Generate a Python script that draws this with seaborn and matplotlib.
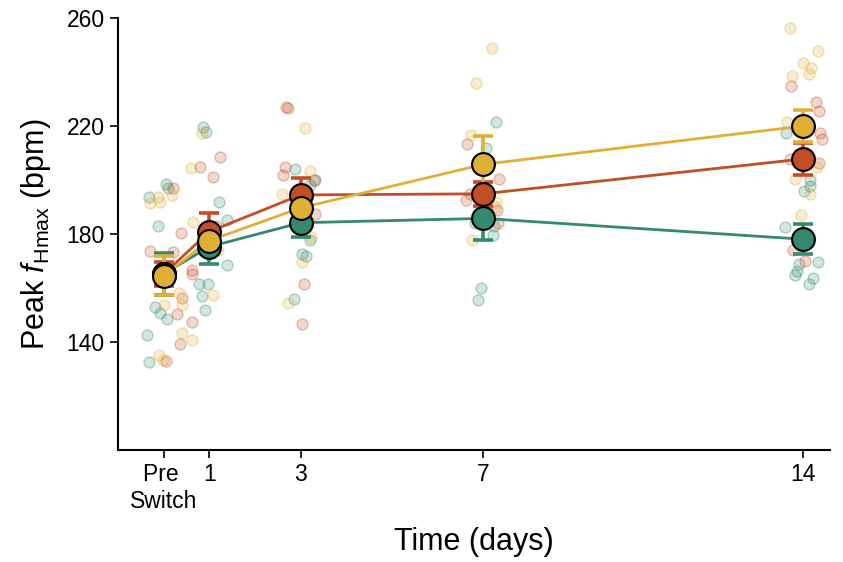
import numpy as np
import pandas as pd
import matplotlib
matplotlib.use("Agg")
import matplotlib.pyplot as plt
import seaborn as sns

# ---------------- data ----------------
times = [0, 1, 3, 7, 14]
tick_labels = ["Pre \nSwitch", "1", "3", "7", "14"]
groups = ["green", "red", "gold"]
colors = {"green": "#338a70", "red": "#c24e26", "gold": "#e0af35"}

mean_green = [165.3, 175.3, 184.2, 185.8, 178.1]
se_green = [7.8, 6.5, 5.2, 8.0, 5.6]
mean_red = [165.2, 180.9, 194.5, 194.9, 207.8]
se_red = [4.5, 7.0, 6.4, 4.5, 6.0]
mean_gold = [164.6, 177.6, 189.7, 205.8, 220.0]
se_gold = [7.3, 5.0, 4.0, 10.5, 6.0]

# individual points (x = day position incl. visual offset, y = value)
green_x = [-0.33, 0.04, 0.09, -0.13, -0.20, -0.09, 0.07, -0.37, -0.33,
           0.87, 0.92, 1.21, 1.38, 1.38, 0.78, 0.96, 0.84, 0.91,
           2.88, 3.21, 3.29, 3.21, 3.02, 3.12, 2.85, 3.05, 2.95,
           7.27, 7.05, 6.81, 7.24, 7.21, 6.96, 6.88, 7.10,
           13.63, 14.15, 14.15, 14.03, 13.61, 14.33, 13.92, 13.88, 13.82, 14.21, 14.14]
green_y = [193.8, 198.5, 197.0, 183.0, 153.1, 150.9, 148.4, 142.6, 132.7,
           219.5, 217.8, 192.0, 185.2, 168.5, 161.7, 161.7, 157.0, 151.9,
           204.1, 198.1, 200.0, 177.8, 172.5, 171.9, 155.9, 186.0, 190.0,
           221.4, 211.7, 184.0, 183.0, 179.6, 160.1, 155.6, 188.0,
           217.3, 200.0, 197.9, 195.9, 182.5, 169.5, 168.8, 166.3, 164.8, 163.6, 161.4]

red_x = [0.20, -0.30, 0.20, 0.38, 0.40, 0.29, 0.36, 0.04,
         1.24, 0.79, 1.09, 0.63, 0.63, 0.63, 1.15,
         2.68, 2.72, 2.65, 2.62, 3.31, 3.32, 3.08, 3.03,
         6.64, 7.35, 6.61, 7.32, 6.70, 7.30,
         13.73, 14.28, 14.35, 14.38, 14.41, 13.72, 14.35, 13.79, 14.04]
red_y = [196.9, 173.7, 173.4, 180.3, 156.2, 150.4, 139.3, 133.1,
         208.5, 204.7, 201.2, 166.7, 165.4, 147.5, 183.0,
         227.2, 226.5, 204.9, 201.9, 200.0, 187.3, 161.4, 146.6,
         213.2, 200.3, 192.6, 184.0, 195.0, 189.0,
         234.8, 228.8, 225.6, 217.3, 215.2, 207.8, 206.2, 174.1, 170.0]

gold_x = [-0.30, -0.13, -0.09, 0.18, 0.34, 0.40, 0.00, 0.40, -0.11, -0.02,
          0.84, 0.60, 0.65, 1.07, 0.61, 1.20,
          3.10, 3.20, 2.59, 3.23, 3.03, 2.72,
          7.20, 6.85, 6.74, 7.25, 6.76, 7.28,
          13.72, 14.32, 14.01, 14.17, 14.13, 13.77, 13.66, 14.31, 13.83, 14.15, 13.96]
gold_y = [191.4, 193.8, 192.0, 194.4, 158.0, 153.7, 153.7, 143.2, 135.2, 133.3,
          217.3, 204.3, 184.3, 157.4, 140.7, 174.0,
          219.1, 203.3, 194.7, 179.0, 169.5, 154.3,
          249.0, 236.0, 216.7, 190.1, 177.8, 192.0,
          256.2, 247.8, 243.4, 241.4, 239.1, 238.6, 221.4, 204.9, 200.4, 194.7, 187.0]

pts = pd.concat([
    pd.DataFrame({"x": green_x, "y": green_y, "group": "green"}),
    pd.DataFrame({"x": red_x, "y": red_y, "group": "red"}),
    pd.DataFrame({"x": gold_x, "y": gold_y, "group": "gold"}),
], ignore_index=True)

means = pd.concat([
    pd.DataFrame({"x": times, "y": mean_green, "se": se_green, "group": "green"}),
    pd.DataFrame({"x": times, "y": mean_red, "se": se_red, "group": "red"}),
    pd.DataFrame({"x": times, "y": mean_gold, "se": se_gold, "group": "gold"}),
], ignore_index=True)

# ---------------- style ----------------
sns.set_theme(style="ticks")
plt.rcParams["font.family"] = ["Liberation Sans", "DejaVu Sans"]
plt.rcParams["mathtext.fontset"] = "custom"
plt.rcParams["mathtext.rm"] = "Liberation Sans"
plt.rcParams["mathtext.it"] = "Liberation Sans:italic"

fig = plt.figure(figsize=(8.43, 5.62), dpi=100)
ax = fig.add_axes([0.140, 0.199, 0.845, 0.769])

# individual points
for g in groups:
    sub = pts[pts.group == g]
    c = matplotlib.colors.to_rgba(colors[g])
    ax.scatter(sub.x, sub.y, s=62, facecolor=(c[0], c[1], c[2], 0.22),
               edgecolor=(c[0], c[1], c[2], 0.35), linewidth=1.0, zorder=1)

# mean lines
sns.lineplot(data=means, x="x", y="y", hue="group", palette=colors,
             hue_order=groups, linewidth=2.0, legend=False, ax=ax,
             zorder=2, estimator=None, sort=True)

# error bars and mean markers
for i, g in enumerate(groups):
    sub = means[means.group == g]
    ax.errorbar(sub.x, sub.y, yerr=sub.se, fmt="none", ecolor=colors[g],
                elinewidth=2.6, capsize=7, capthick=2.6, zorder=3 + i)
for i, g in enumerate(groups):
    sub = means[means.group == g]
    ax.scatter(sub.x, sub.y, s=270, color=colors[g], edgecolor="black",
               linewidth=1.5, zorder=6 + i)

ax.set_xlim(-1.0, 14.6)
ax.set_ylim(100, 260)
ax.set_xticks(times)
ax.set_xticklabels(tick_labels)
ax.set_yticks([140, 180, 220, 260])
ax.tick_params(axis="both", labelsize=16.5, length=6, width=1.2, color="black",
               labelcolor="black", direction="out")
for sp in ["top", "right"]:
    ax.spines[sp].set_visible(False)
for sp in ["left", "bottom"]:
    ax.spines[sp].set_linewidth(1.5)
    ax.spines[sp].set_color("black")

ax.set_xlabel("Time (days)", fontsize=22, color="black", labelpad=10)
ax.set_ylabel(r"Peak $\it{f}$$_{\rm Hmax}$ (bpm)", fontsize=22, color="black", labelpad=10)

fig.savefig("out.png", dpi=100)
